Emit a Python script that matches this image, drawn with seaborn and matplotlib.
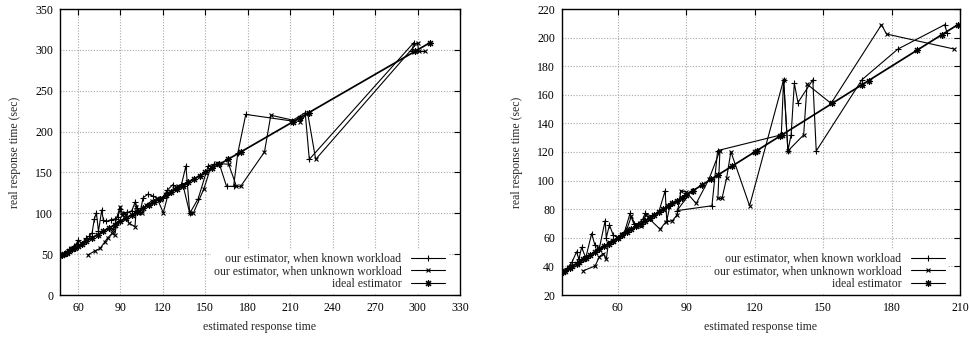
import matplotlib
matplotlib.use("Agg")
import matplotlib.pyplot as plt
import seaborn as sns
import pandas as pd

# ---------------- data (left panel) ----------------
known_x_L = [48, 51, 54, 57, 59, 60, 63, 66, 68, 70, 71.5, 73, 74.5, 76.8, 77.9, 80, 83, 86, 88, 90,
             92, 95, 98, 100.5, 102, 104, 106, 109.6, 113, 117, 120, 123, 127, 130, 133, 136.3, 139, 145,
             152, 156, 160, 165, 170, 173, 178.6, 211, 220.6, 223.5, 297.4, 296]
known_y_L = [49, 52, 56, 60, 63, 67, 63, 70, 72, 76, 92.6, 100.7, 78, 104, 91.8, 90, 92, 93, 96, 105,
             99, 101, 103, 114, 106, 101, 119, 123.6, 121, 118, 119, 128, 135, 131, 134, 158, 100, 118,
             158, 160, 160, 133, 133, 174, 221, 213, 223, 166, 309, 298]
unknown_x_L = [67, 72, 75.6, 79, 81, 84.3, 86, 87.4, 85, 89.7, 90.9, 93, 96, 100.3, 101.3, 103, 105, 108,
               112, 116, 120.3, 124, 128, 131, 134, 139, 141.5, 149, 154, 158.5, 166.5, 172, 175, 191.8,
               196.3, 217, 222.3, 228, 300, 300.8, 305]
unknown_y_L = [49, 54, 57, 65, 70, 75.5, 74, 87.7, 80, 108, 97.9, 100, 88, 83.6, 108, 102, 100, 110,
               115, 118, 100.7, 125, 130, 134, 136, 100, 100, 130, 157, 161, 160, 133, 133, 175,
               220, 212, 223, 166, 309, 298, 298]
ideal_L = [49, 50, 52, 54, 56, 58, 60, 63, 66, 70, 74, 78, 82, 86, 90, 94, 98, 102, 106, 110, 114, 118,
           122, 126, 130, 134, 138, 142, 146, 150, 155, 160, 166, 175, 212, 217, 223, 298, 309]

# ---------------- data (right panel) ----------------
known_x_R = [36, 38, 40, 42, 43, 44.2, 46, 48.6, 50, 52, 54.5, 55, 56.4, 58, 60, 62, 63, 65.4, 67, 69,
             71, 72, 75, 78, 80.8, 81.5, 83, 88, 92.5, 86, 101.3, 103.8, 131.7, 132.7, 134.6, 136,
             137.4, 139, 145.5, 147, 167, 182.8, 203.3, 204.4]
known_y_R = [36, 39, 43, 50.3, 45, 53.4, 46, 63, 55, 53, 72, 60, 69, 62, 60, 62, 64, 77, 70, 70,
             73, 77, 75, 78, 92.9, 72, 83, 88, 92.9, 79, 82.4, 121, 132, 170.5, 121, 132,
             168, 154.6, 170.5, 120.7, 170.5, 192, 209, 203]
unknown_x_R = [45, 50.1, 52, 53.7, 55, 56, 58, 60, 62, 64, 66, 68, 70, 72.4, 74, 78.6, 81.2, 84, 86, 87.7,
               90, 94.4, 100, 104.8, 103.9, 105.7, 107.7, 109.6, 117.8, 132.7, 134.6, 141.5, 143,
               153.5, 175.6, 177.8, 207.4]
unknown_y_R = [37, 40.3, 46.8, 49, 45, 57, 58, 60, 63, 66, 75, 68, 68, 76, 73, 66, 71.3, 72, 76, 92.9,
               92, 84, 101, 121, 87.5, 87.5, 101.5, 120.2, 82.4, 170.5, 120.7, 132, 167.4,
               154, 209, 202.5, 192]
ideal_R = [36, 37, 39, 40, 42, 43, 45, 46, 48, 50, 52, 54, 56, 58, 60, 62, 64, 66, 68, 70, 72, 74, 76,
           78, 80, 82, 84, 86, 88, 90, 93, 97, 101, 104, 110, 120, 121, 131, 132, 154, 167, 170, 191,
           202, 209]

labels = ["our estimator, when known workload",
          "our estimator, when unknown workload",
          "ideal estimator"]
x_label = "estimated response time"
y_label = "real response time (sec)"

sns.set_style("white")
plt.rcParams["font.family"] = ["Liberation Serif", "DejaVu Serif"]

fig = plt.figure(figsize=(9.70, 3.37), dpi=100)
axL = fig.add_axes([60 / 970, 42 / 337, 400 / 970, 286 / 337])
axR = fig.add_axes([562 / 970, 42 / 337, 398 / 970, 286 / 337])

FS = 8.5
asterisk = (8, 2, 0)


def draw(ax, kx, ky, ux, uy, ideal, xlim, ylim, xticks, yticks):
    dk = pd.DataFrame({"x": kx, "y": ky})
    du = pd.DataFrame({"x": ux, "y": uy})
    di = pd.DataFrame({"x": ideal, "y": ideal})
    sns.lineplot(data=dk, x="x", y="y", sort=False, estimator=None, ax=ax, color="black",
                 linewidth=0.8, marker="+", markersize=5, markeredgewidth=0.8,
                 markeredgecolor="black", label=labels[0], zorder=3)
    sns.lineplot(data=du, x="x", y="y", sort=False, estimator=None, ax=ax, color="black",
                 linewidth=0.8, marker="x", markersize=3.5, markeredgewidth=0.8,
                 markeredgecolor="black", label=labels[1], zorder=3)
    sns.lineplot(data=di, x="x", y="y", sort=False, estimator=None, ax=ax, color="black",
                 linewidth=1.25, marker=asterisk, markersize=5, markeredgewidth=0.8,
                 markeredgecolor="black", label=labels[2], zorder=4)
    ax.set_xlim(*xlim)
    ax.set_ylim(*ylim)
    ax.set_xticks(xticks)
    ax.set_yticks(yticks)
    ax.grid(True, color="#a8a8a8", linestyle=(0, (1, 1.5)), linewidth=0.8)
    ax.set_axisbelow(True)
    ax.tick_params(direction="in", length=4, width=0.8, top=True, right=True,
                   labelsize=FS, pad=5, colors="black")
    for s in ax.spines.values():
        s.set_visible(True)
        s.set_color("black")
        s.set_linewidth(1.0)
    ax.set_xlabel(x_label, fontsize=FS, labelpad=5)
    ax.set_ylabel(y_label, fontsize=FS, labelpad=10)
    leg = ax.legend(loc="lower right", bbox_to_anchor=(0.97, 0.007), borderaxespad=0,
                    markerfirst=False, fontsize=FS, frameon=True, fancybox=False,
                    facecolor="white", edgecolor="none", framealpha=1.0, borderpad=0.25,
                    labelspacing=0.05, handlelength=2.9, handletextpad=0.8)
    for line in leg.get_lines():
        line.set_linewidth(0.8)
    leg.set_zorder(2.5)


draw(axL, known_x_L, known_y_L, unknown_x_L, unknown_y_L, ideal_L,
     (47.3, 330), (0, 350), list(range(60, 331, 30)), list(range(0, 351, 50)))
draw(axR, known_x_R, known_y_R, unknown_x_R, unknown_y_R, ideal_R,
     (35.6, 210), (20, 220), list(range(60, 211, 30)), list(range(20, 221, 20)))

fig.savefig("out.png", dpi=100)
